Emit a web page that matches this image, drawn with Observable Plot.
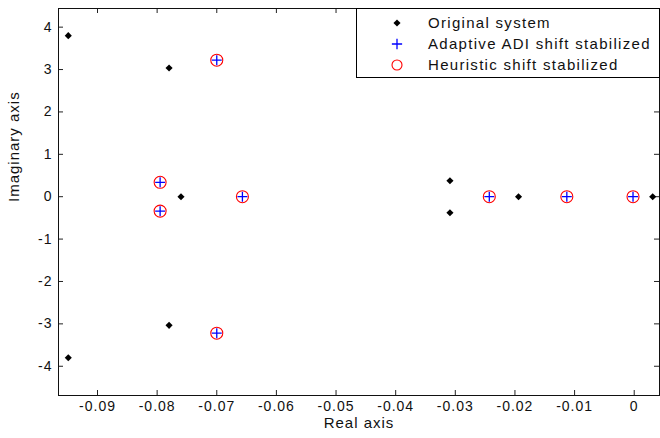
<!DOCTYPE html>
<html>
<head>
<meta charset="utf-8">
<script src="https://cdn.jsdelivr.net/npm/d3@7"></script>
<script src="https://cdn.jsdelivr.net/npm/@observablehq/plot@0.6"></script>
<style>
  html, body { margin: 0; padding: 0; background: #fff; }
  #chart { position: relative; width: 660px; height: 438px; font-family: "Liberation Sans", Arial, sans-serif; }
  #legend { position: absolute; left: 356px; top: 8px; width: 304px; height: 70px; box-sizing: border-box;
            border: 1px solid #000; background: #fff; }
  #legend .row { position: absolute; left: 0; height: 20px; width: 100%; }
  #legend svg { position: absolute; left: 30px; top: 0; }
  #legend span { position: absolute; left: 71px; top: 1px; font-size: 15px; letter-spacing: 1.3px; color: #111; line-height: 18px; white-space: nowrap; }
</style>
</head>
<body>
<div id="chart"></div>
<script>
// Eigenvalues of the original system (real part, imaginary part)
const originalRe = [-0.0949, -0.0780, -0.0760, -0.0780, -0.0949, -0.0309, -0.0309, -0.0194, 0.0031];
const originalIm = [3.80, 3.035, 0, -3.035, -3.80, 0.377, -0.377, 0, 0];

// Eigenvalues after stabilization with adaptive ADI shifts
const adaptiveRe = [-0.0700, -0.0795, -0.0795, -0.0657, -0.0700, -0.0243, -0.0113, -0.0002];
const adaptiveIm = [3.22, 0.34, -0.34, 0, -3.22, 0, 0, 0];

// Eigenvalues after stabilization with heuristic shifts
const heuristicRe = [-0.0700, -0.0795, -0.0795, -0.0657, -0.0700, -0.0243, -0.0113, -0.0002];
const heuristicIm = [3.22, 0.34, -0.34, 0, -3.22, 0, 0, 0];

// Axis ticks and their labels
const xTicks = [-0.09, -0.08, -0.07, -0.06, -0.05, -0.04, -0.03, -0.02, -0.01, 0];
const xTickLabels = ["-0.09", "-0.08", "-0.07", "-0.06", "-0.05", "-0.04", "-0.03", "-0.02", "-0.01", "0"];
const yTicks = [-4, -3, -2, -1, 0, 1, 2, 3, 4];
const yTickLabels = ["-4", "-3", "-2", "-1", "0", "1", "2", "3", "4"];

const xLabel = "Real axis";
const yLabel = "Imaginary axis";
const legendLabels = ["Original system", "Adaptive ADI shift stabilized", "Heuristic shift stabilized"];

const toPoints = (re, im) => re.map((r, i) => ({re: r, im: im[i]}));
const original = toPoints(originalRe, originalIm);
const adaptive = toPoints(adaptiveRe, adaptiveIm);
const heuristic = toPoints(heuristicRe, heuristicIm);

const xFmt = new Map(xTicks.map((v, i) => [v, xTickLabels[i]]));
const yFmt = new Map(yTicks.map((v, i) => [v, yTickLabels[i]]));

const W = 660, H = 438, mL = 58, mR = 1, mT = 8, mB = 43;
const fw = W - mL - mR, fh = H - mT - mB;
const tick = 5;

const chart = Plot.plot({
  width: W, height: H,
  marginLeft: mL, marginRight: mR, marginTop: mT, marginBottom: mB,
  style: {fontFamily: '"Liberation Sans", Arial, sans-serif', fontSize: "14px", color: "#111", background: "#fff", letterSpacing: "1px"},
  x: {domain: [-0.09654, 0.00424]},
  y: {domain: [-4.69, 4.44]},
  marks: [
    // inward ticks on all four sides
    Plot.ruleX(xTicks, {insetTop: fh - tick, stroke: "#222"}),
    Plot.ruleX(xTicks, {insetBottom: fh - tick, stroke: "#222"}),
    Plot.ruleY(yTicks, {insetRight: fw - tick, stroke: "#222"}),
    Plot.ruleY(yTicks, {insetLeft: fw - tick, stroke: "#222"}),
    Plot.frame({stroke: "#111"}),
    Plot.axisX(xTicks, {tickSize: 0, tickPadding: 6, tickFormat: d => xFmt.get(d), label: null}),
    Plot.axisY(yTicks, {tickSize: 0, tickPadding: 6, tickFormat: d => yFmt.get(d), label: null}),
    Plot.text([xLabel], {frameAnchor: "bottom", dy: 32, fontSize: 15}),
    Plot.text([yLabel], {frameAnchor: "left", dx: -44, rotate: -90, fontSize: 15}),
    // eigenvalues
    Plot.dot(heuristic, {x: "re", y: "im", r: 6, stroke: "#ff0000", strokeWidth: 1.1, fill: "none"}),
    Plot.dot(adaptive, {x: "re", y: "im", symbol: "plus", r: 3.3, stroke: "#0000ff", strokeWidth: 1.3}),
    Plot.dot(original, {x: "re", y: "im", symbol: "diamond2", r: 3.2, fill: "#000", stroke: "none"})
  ]
});
document.getElementById("chart").appendChild(chart);

// Legend box in the upper right corner
const legend = document.createElement("div");
legend.id = "legend";
const symbols = [
  {sym: d3.symbolDiamond2, r: 3.2, fill: "#000", stroke: "none", sw: 0},
  {sym: d3.symbolPlus, r: 3.4, fill: "none", stroke: "#0000ff", sw: 1.3},
  {sym: d3.symbolCircle, r: 5, fill: "none", stroke: "#ff0000", sw: 1.1}
];
legendLabels.forEach((label, i) => {
  const row = document.createElement("div");
  row.className = "row";
  row.style.top = (3.5 + i * 21) + "px";
  const s = symbols[i];
  const path = d3.symbol(s.sym, Math.PI * s.r * s.r)();
  row.innerHTML = `<svg width="20" height="20" viewBox="-10 -10 20 20"><path d="${path}" fill="${s.fill}" stroke="${s.stroke}" stroke-width="${s.sw}"/></svg><span></span>`;
  row.querySelector("span").textContent = label;
  legend.appendChild(row);
});
document.getElementById("chart").appendChild(legend);
</script>
</body>
</html>
